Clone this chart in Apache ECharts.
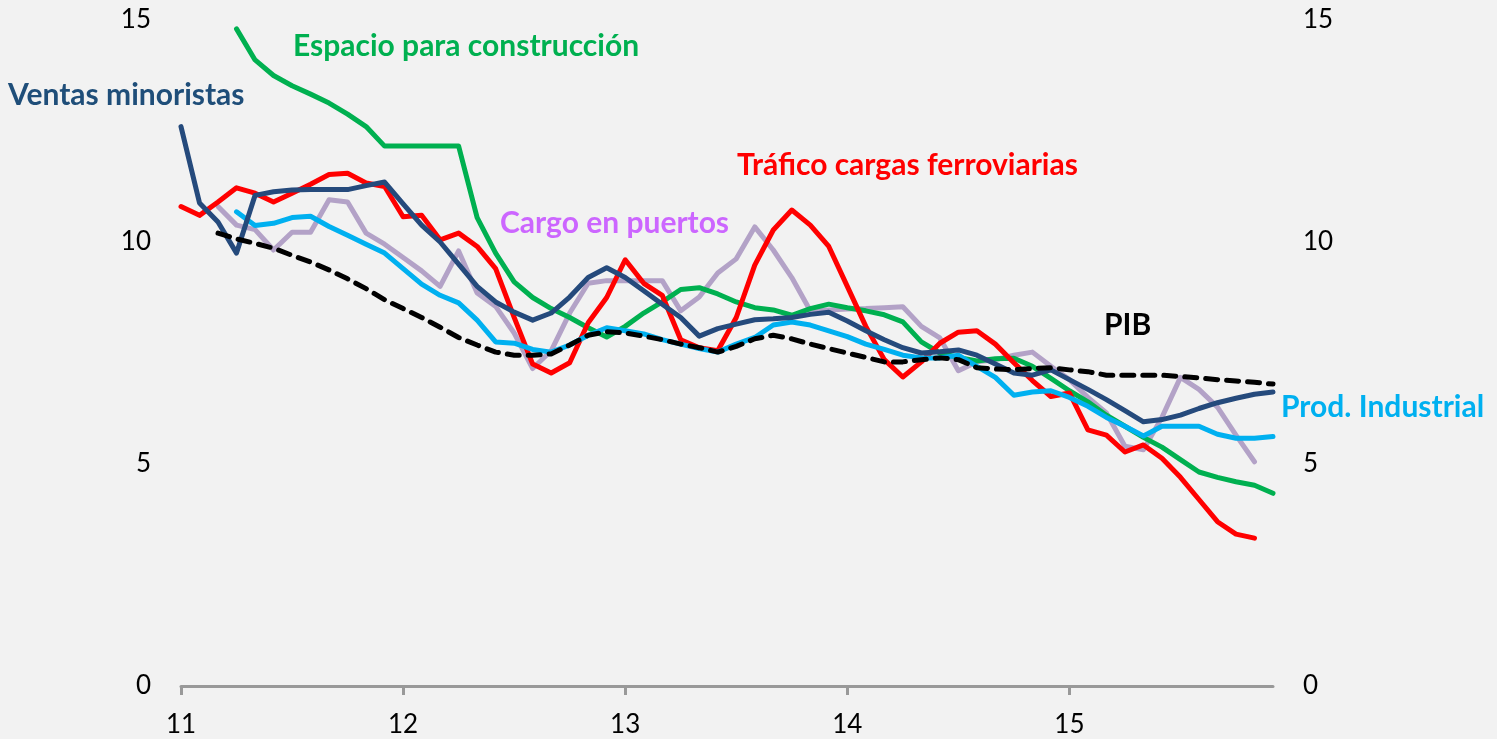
<!DOCTYPE html>
<html>
<head>
<meta charset="utf-8">
<script src="https://cdn.jsdelivr.net/npm/echarts@6/dist/echarts.min.js"></script>
<style>
  html, body { margin: 0; padding: 0; background: #f2f2f2; }
  #chart { width: 1497px; height: 739px; }
</style>
</head>
<body>
<div id="chart"></div>
<script>
// años y meses (ene 2011 - dic 2015)
const years = ['11', '12', '13', '14', '15'];
const categories = [];
years.forEach(y => {
  for (let m = 1; m <= 12; m++) categories.push(y + '-' + m);
});
const yTicks = [0, 5, 10, 15];

// series mensuales (% a/a)
const trafico = [10.8, 10.6, 10.9, 11.22, 11.1, 10.9, 11.1, 11.3, 11.52, 11.55, 11.33, 11.25,
  10.57, 10.6, 10.05, 10.2, 9.9, 9.4, 8.3, 7.25, 7.05, 7.28, 8.18, 8.75,
  9.6, 9.07, 8.8, 7.8, 7.62, 7.55, 8.3, 9.48, 10.27, 10.72, 10.38, 9.9,
  9.0, 8.1, 7.35, 6.96, 7.3, 7.72, 7.97, 8.0, 7.7, 7.28, 6.88, 6.52,
  6.6, 5.77, 5.65, 5.27, 5.43, 5.13, 4.7, 4.2, 3.7, 3.42, 3.33, null];

const espacio = [null, null, null, 14.8, 14.1, 13.75, 13.52, 13.33, 13.13, 12.88, 12.6, 12.16,
  12.16, 12.16, 12.16, 12.16, 10.55, 9.75, 9.1, 8.75, 8.5, 8.3, 8.07, 7.86,
  8.1, 8.4, 8.65, 8.93, 8.97, 8.83, 8.65, 8.52, 8.47, 8.35, 8.5, 8.6,
  8.52, 8.45, 8.36, 8.2, 7.75, 7.5, 7.4, 7.32, 7.37, 7.38, 7.2, 6.93,
  6.65, 6.4, 6.1, 5.85, 5.6, 5.38, 5.1, 4.82, 4.7, 4.6, 4.52, 4.34];

const ventas = [12.6, 10.88, 10.45, 9.75, 11.05, 11.13, 11.17, 11.18, 11.18, 11.18, 11.27, 11.35,
  10.86, 10.38, 10.0, 9.5, 9.0, 8.65, 8.42, 8.24, 8.4, 8.76, 9.2, 9.42,
  9.2, 8.9, 8.6, 8.3, 7.88, 8.05, 8.15, 8.25, 8.27, 8.3, 8.37, 8.42,
  8.22, 8.0, 7.8, 7.62, 7.5, 7.53, 7.57, 7.45, 7.25, 7.05, 7.0, 7.12,
  6.9, 6.68, 6.45, 6.2, 5.95, 6.0, 6.1, 6.25, 6.38, 6.48, 6.57, 6.62];

const prodInd = [null, null, null, 10.68, 10.37, 10.42, 10.55, 10.58, 10.35, 10.15, 9.95, 9.75,
  9.4, 9.05, 8.8, 8.63, 8.24, 7.75, 7.72, 7.58, 7.52, 7.68, 7.9, 8.07,
  8.0, 7.93, 7.8, 7.7, 7.6, 7.52, 7.7, 7.85, 8.13, 8.2, 8.13, 8.0,
  7.87, 7.7, 7.58, 7.45, 7.39, 7.39, 7.45, 7.2, 6.95, 6.55, 6.62, 6.65,
  6.5, 6.3, 6.05, 5.85, 5.63, 5.85, 5.85, 5.85, 5.67, 5.58, 5.58, 5.62];

const puertos = [null, null, 10.8, 10.38, 10.28, 9.82, 10.22, 10.22, 10.95, 10.9, 10.2, 9.95,
  9.65, 9.35, 9.0, 9.8, 8.85, 8.55, 7.95, 7.15, 7.55, 8.4, 9.07, 9.13,
  9.13, 9.13, 9.13, 8.45, 8.76, 9.3, 9.62, 10.34, 9.82, 9.2, 8.45, 8.47,
  8.49, 8.5, 8.52, 8.54, 8.1, 7.84, 7.1, 7.3, 7.35, 7.45, 7.52, 7.2,
  6.9, 6.5, 6.15, 5.4, 5.32, 6.05, 6.95, 6.68, 6.28, 5.65, 5.05, null];

const pib = [null, null, 10.2, 10.07, 9.97, 9.86, 9.7, 9.55, 9.37, 9.17, 8.95, 8.7,
  8.5, 8.3, 8.08, 7.85, 7.68, 7.52, 7.45, 7.45, 7.48, 7.68, 7.9, 7.98,
  7.95, 7.88, 7.8, 7.7, 7.62, 7.52, 7.65, 7.82, 7.9, 7.82, 7.7, 7.6,
  7.5, 7.4, 7.3, 7.3, 7.35, 7.39, 7.35, 7.17, 7.14, 7.12, 7.15, 7.17,
  7.12, 7.08, 7.0, 7.0, 7.0, 7.0, 6.97, 6.94, 6.9, 6.87, 6.84, 6.8];

const chart = echarts.init(document.getElementById('chart'));

const font = 'Lato';
const isYearStart = i => i % 12 === 0;

function line(name, data, color, extra) {
  return Object.assign({
    name: name,
    type: 'line',
    data: data,
    showSymbol: false,
    symbol: 'none',
    connectNulls: false,
    lineStyle: { color: color, width: 5, cap: 'round', join: 'round' },
    itemStyle: { color: color },
    emphasis: { disabled: true }
  }, extra || {});
}

function label(text, left, top, color) {
  return {
    type: 'text', left: left, top: top,
    style: { text: text, fill: color, font: 'bold 30px ' + font }
  };
}

const yAxisBase = {
  type: 'value',
  min: yTicks[0],
  max: yTicks[yTicks.length - 1],
  interval: 5,
  axisLine: { show: false },
  axisTick: { show: false },
  splitLine: { show: false },
  axisLabel: { color: '#000', fontSize: 26, fontFamily: font, margin: 30 }
};

chart.setOption({
  backgroundColor: '#f2f2f2',
  animation: false,
  grid: { left: 181, right: 224, top: 20, bottom: 53, containLabel: false },
  xAxis: {
    type: 'category',
    data: categories,
    boundaryGap: false,
    axisLine: { lineStyle: { color: '#999', width: 3 } },
    axisTick: { interval: isYearStart, length: 9, lineStyle: { color: '#999', width: 3 } },
    axisLabel: {
      interval: isYearStart,
      color: '#000', fontSize: 26, fontFamily: font, margin: 26,
      formatter: v => v.split('-')[0]
    },
    splitLine: { show: false }
  },
  yAxis: [
    Object.assign({}, yAxisBase, { position: 'left' }),
    Object.assign({}, yAxisBase, { position: 'right' })
  ],
  series: [
    line('Cargo en puertos', puertos, '#b3a2c7'),
    line('Espacio para construcción', espacio, '#00b050'),
    line('Tráfico cargas ferroviarias', trafico, '#ff0000'),
    line('Prod. Industrial', prodInd, '#00b0f0'),
    line('Ventas minoristas', ventas, '#254a7c'),
    line('PIB', pib, '#000000', {
      lineStyle: { color: '#000', width: 5, type: [12, 9], cap: 'round' }
    })
  ],
  graphic: [
    label('Espacio para construcción', 293, 31, '#00b050'),
    label('Ventas minoristas', 8, 80, '#1f4e79'),
    label('Tráfico cargas ferroviarias', 737, 150, '#ff0000'),
    label('Cargo en puertos', 500, 208, '#cc66ff'),
    label('PIB', 1104, 310, '#000000'),
    label('Prod. Industrial', 1281, 392, '#00b0f0')
  ]
});
</script>
</body>
</html>
